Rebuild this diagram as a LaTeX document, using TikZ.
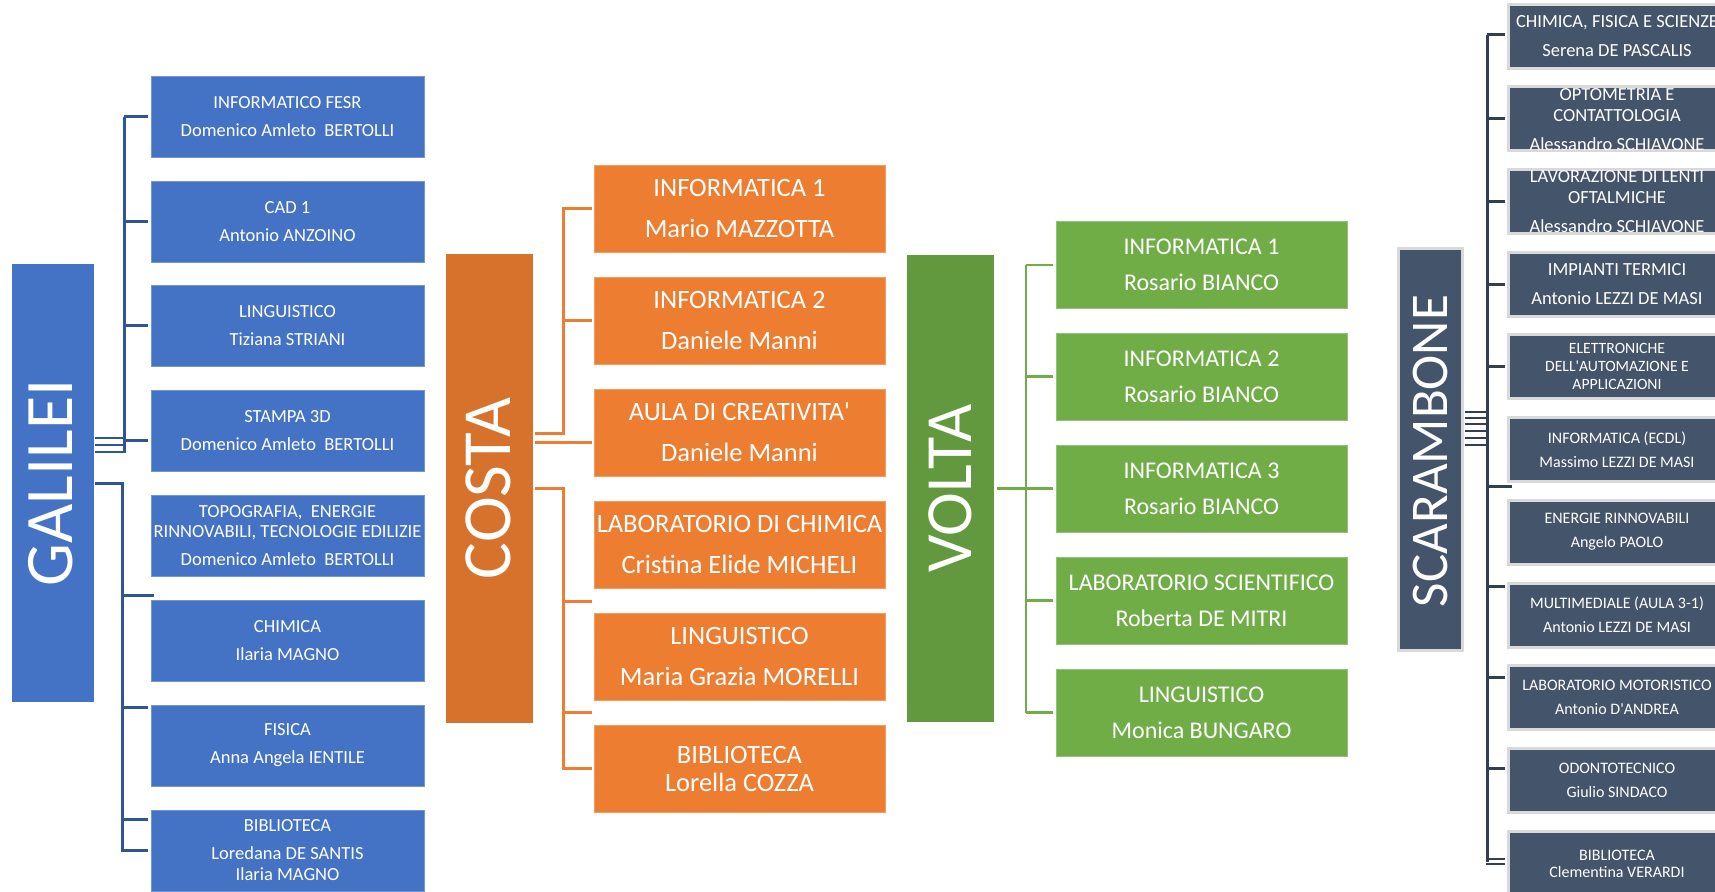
\documentclass[tikz,border=0pt]{standalone}
\usepackage{fontspec}
\setmainfont{Carlito}
\definecolor{gblue}{HTML}{4472C4}
\definecolor{gline}{HTML}{2F5597}
\definecolor{corgm}{HTML}{D6722C}
\definecolor{corg}{HTML}{ED7D31}
\definecolor{vgrm}{HTML}{62993E}
\definecolor{vgr}{HTML}{70AD47}
\definecolor{sslate}{HTML}{44546A}
\definecolor{sline}{HTML}{333F50}
\definecolor{sbord}{HTML}{D9D9D9}
\tikzset{
  box/.style={rectangle, inner sep=0pt, text=white, align=center, anchor=center},
  mainlbl/.style={inner sep=0pt, text=white, rotate=90, anchor=center},
  gbox/.style={box, fill=gblue, draw=gblue!75!white, line width=0.8pt, minimum width=273pt, minimum height=81pt, font=\fontsize{18.5}{28}\selectfont},
  cbox/.style={box, fill=corg, draw=corg!75!white, line width=0.8pt, minimum width=291pt, minimum height=87pt, font=\fontsize{26.5}{41}\selectfont},
  vbox/.style={box, fill=vgr, draw=vgr!75!white, line width=0.8pt, minimum width=291pt, minimum height=87pt, font=\fontsize{24}{36}\selectfont},
  sbox/.style={box, fill=sslate, draw=sbord, line width=3pt, minimum width=218pt, minimum height=64pt, font=\fontsize{18.5}{29}\selectfont},
  sboxs/.style={sbox, font=\fontsize{16}{24}\selectfont},
  stxt/.style={inner sep=0pt, text=white, align=center, anchor=center, font=\fontsize{18.5}{29}\selectfont},
  gcon/.style={draw=gline, line width=3pt},
  ccon/.style={draw=corg, line width=3pt},
  vcon/.style={draw=vgr, line width=2.5pt},
  scon/.style={draw=sline, line width=3pt},
  sconthin/.style={draw=sline, line width=2pt},
}
\begin{document}
\begin{tikzpicture}[x=1pt,y=-1pt]
\clip (0,0) rectangle (1715,891);

% ---------------- coordinates for connector free ends
\coordinate (gbusT) at (124,116.5);
\coordinate (gbusB) at (124,453);
\coordinate (g4s) at (124,440);
\coordinate (gm1) at (95,438);
\coordinate (gm2) at (95,445);
\coordinate (gm3) at (95,452);
\coordinate (gl0) at (95,483);
\coordinate (gl1) at (122,483);
\coordinate (gl2) at (122,850);
\coordinate (gs5) at (154,595);
\coordinate (gs6) at (148,707);
\coordinate (gs7) at (148,819);
\coordinate (gs8) at (148,850);

\coordinate (cu0) at (535,433);
\coordinate (cu1) at (563,433);
\coordinate (cd0) at (535,442);
\coordinate (cl0) at (535,488);
\coordinate (cl1) at (563,488);
\coordinate (cl2) at (563,768.5);
\coordinate (cs4) at (592,601);
\coordinate (cs5) at (592,712);

\coordinate (vbusT) at (1026,265);
\coordinate (vbusB) at (1026,712.5);
\coordinate (vm0) at (997,488.5);

\coordinate (sbusT) at (1487,35);
\coordinate (sbusB) at (1487,862);
\coordinate (ss6) at (1512,486);
\coordinate (ss7) at (1505,586);
\coordinate (ss8) at (1505,677);
\coordinate (ss9) at (1505,768);
\coordinate (ss10) at (1505,859);
\coordinate (ss10b) at (1505,864);

% ---------------- GALILEI connectors
\draw[gcon] (gbusT) -- (gbusB);
\foreach \y/\n in {116.5/1,221.5/2,325.5/3}{
  \draw[gcon] (124,\y) -- (148,\y);
}
\draw[gcon] (g4s) -- ++(24,0);
\draw[sconthin,draw=gline] (gm1) -- (gbusB |- gm1);
\draw[sconthin,draw=gline] (gm2) -- (gbusB |- gm2);
\draw[sconthin,draw=gline] (gm3) -- (gbusB |- gm3);
\draw[gcon] (gl0) -- (gl1) -- (gl2) -- (gs8);
\draw[gcon] (gl1 |- gs5) -- (gs5);
\draw[gcon] (gl1 |- gs6) -- (gs6);
\draw[gcon] (gl1 |- gs7) -- (gs7);

% ---------------- COSTA connectors
\draw[ccon] (cu0) -- (cu1) -- (563,208.5) -- (592,208.5);
\draw[ccon] (563,320.5) -- (592,320.5);
\draw[ccon] (cd0) -- (592,442);
\draw[ccon] (cl0) -- (cl1) -- (cl2) -- (592,768.5);
\draw[ccon] (cl1 |- cs4) -- (cs4);
\draw[ccon] (cl1 |- cs5) -- (cs5);

% ---------------- VOLTA connectors
\draw[vcon] (vbusT) -- (vbusB);
\draw[vcon] (vm0) -- (1053,488.5);
\foreach \y in {265,376.5,600.5,712.5}{
  \draw[vcon] (1026,\y) -- (1053,\y);
}

% ---------------- SCARAMBONE connectors
\draw[scon] (sbusT) -- (sbusB);
\foreach \y in {35,118.5,201,284.5,366.5}{
  \draw[scon] (1487,\y) -- (1505,\y);
}
\draw[scon] (sbusB |- ss6) -- (ss6);
\draw[scon] (sbusB |- ss7) -- (ss7);
\draw[scon] (sbusB |- ss8) -- (ss8);
\draw[scon] (sbusB |- ss9) -- (ss9);
\draw[sconthin] (1486,859) -- (ss10);
\draw[sconthin] (1486,864) -- (ss10b);
\foreach \y in {412,418,424,431,438,445}{
  \draw[sconthin] (1465,\y) -- (1486,\y);
}

% ---------------- GALILEI
\node[box, fill=gblue, minimum width=82pt, minimum height=438pt] (gal) at (53,483) {};
\node[mainlbl, font=\fontsize{68}{70}\selectfont] (galt) at (51,483) {GALILEI};
\node[gbox] (g1) at (287.5,116.5) {INFORMATICO FESR\\Domenico Amleto~ BERTOLLI};
\node[gbox] (g2) at (287.5,221.5) {CAD 1\\Antonio ANZOINO};
\node[gbox] (g3) at (287.5,325.5) {LINGUISTICO\\Tiziana STRIANI};
\node[gbox] (g4) at (287.5,430.5) {STAMPA 3D\\Domenico Amleto~ BERTOLLI};
\node[gbox] (g5) at (287.5,535.5) {TOPOGRAFIA,~ ENERGIE\\[-8pt]RINNOVABILI, TECNOLOGIE EDILIZIE\\Domenico Amleto~ BERTOLLI};
\node[gbox] (g6) at (287.5,640.5) {CHIMICA\\Ilaria MAGNO};
\node[gbox] (g7) at (287.5,745.5) {FISICA\\Anna Angela IENTILE};
\node[gbox] (g8) at (287.5,850.5) {BIBLIOTECA\\Loredana DE SANTIS\\[-7pt]Ilaria MAGNO};

% ---------------- COSTA
\node[box, fill=corgm, minimum width=87pt, minimum height=469pt] (cos) at (489.5,488.5) {};
\node[mainlbl, font=\fontsize{69}{71}\selectfont] (cost) at (488,488.5) {COSTA};
\node[cbox] (c1) at (739.5,208.5) {INFORMATICA 1\\Mario MAZZOTTA};
\node[cbox] (c2) at (739.5,320.5) {INFORMATICA 2\\Daniele Manni};
\node[cbox] (c3) at (739.5,432.5) {AULA DI CREATIVITA\textquotesingle\\Daniele Manni};
\node[cbox] (c4) at (739.5,544.5) {LABORATORIO DI CHIMICA\\Cristina Elide MICHELI};
\node[cbox] (c5) at (739.5,656.5) {LINGUISTICO\\Maria Grazia MORELLI};
\node[cbox] (c6) at (739.5,768.5) {BIBLIOTECA\\[-13pt]Lorella COZZA};

% ---------------- VOLTA
\node[box, fill=vgrm, minimum width=87pt, minimum height=467pt] (vol) at (950.5,488.5) {};
\node[mainlbl, font=\fontsize{66}{68}\selectfont] (volt) at (950,488.5) {VOLTA};
\node[vbox] (v1) at (1201.5,265) {INFORMATICA 1\\Rosario BIANCO};
\node[vbox] (v2) at (1201.5,376.5) {INFORMATICA 2\\Rosario BIANCO};
\node[vbox] (v3) at (1201.5,488.5) {INFORMATICA 3\\Rosario BIANCO};
\node[vbox] (v4) at (1201.5,600.5) {LABORATORIO SCIENTIFICO\\Roberta DE MITRI};
\node[vbox] (v5) at (1201.5,712.5) {LINGUISTICO\\Monica BUNGARO};

% ---------------- SCARAMBONE
\node[box, fill=sslate, draw=sbord, line width=3pt, minimum width=64pt, minimum height=402pt] (sca) at (1430.5,449.5) {};
\node[mainlbl, font=\fontsize{53}{55}\selectfont] (scat) at (1430,451) {SCARAMBONE};
\node[sbox] (s1) at (1617,36.5) {CHIMICA, FISICA E SCIENZE\\Serena DE PASCALIS};
\node[sbox] (s2) at (1617,118.5) {};
\begin{scope}
  \clip (1509,86) rectangle (1726,151);
  \node[stxt] (s2t) at (1617,119.5) {OPTOMETRIA E\\[-8pt]CONTATTOLOGIA\\Alessandro SCHIAVONE};
\end{scope}
\node[sbox] (s3) at (1617,201) {};
\begin{scope}
  \clip (1509,170) rectangle (1726,233);
  \node[stxt] (s3t) at (1617,202) {LAVORAZIONE DI LENTI\\[-8pt]OFTALMICHE\\Alessandro SCHIAVONE};
\end{scope}
\node[sbox] (s4) at (1617,284.5) {IMPIANTI TERMICI\\Antonio LEZZI DE MASI};
\node[sbox, font=\fontsize{15.7}{18}\selectfont] (s5) at (1617,366.5) {ELETTRONICHE\\DELL\textquotesingle AUTOMAZIONE E\\APPLICAZIONI};
\node[sboxs] (s6) at (1617,449.5) {INFORMATICA (ECDL)\\Massimo LEZZI DE MASI};
\node[sboxs] (s7) at (1617,532) {ENERGIE RINNOVABILI\\Angelo PAOLO};
\node[sboxs] (s8) at (1617,615) {MULTIMEDIALE (AULA 3-1)\\Antonio LEZZI DE MASI};
\node[sboxs] (s9) at (1617,697) {LABORATORIO MOTORISTICO\\Antonio D\textquotesingle ANDREA};
\node[sboxs] (s10) at (1617,780.5) {ODONTOTECNICO\\Giulio SINDACO};
\node[sboxs, font=\fontsize{16}{17}\selectfont] (s11) at (1617,863.5) {BIBLIOTECA\\Clementina VERARDI};
\end{tikzpicture}
\end{document}
